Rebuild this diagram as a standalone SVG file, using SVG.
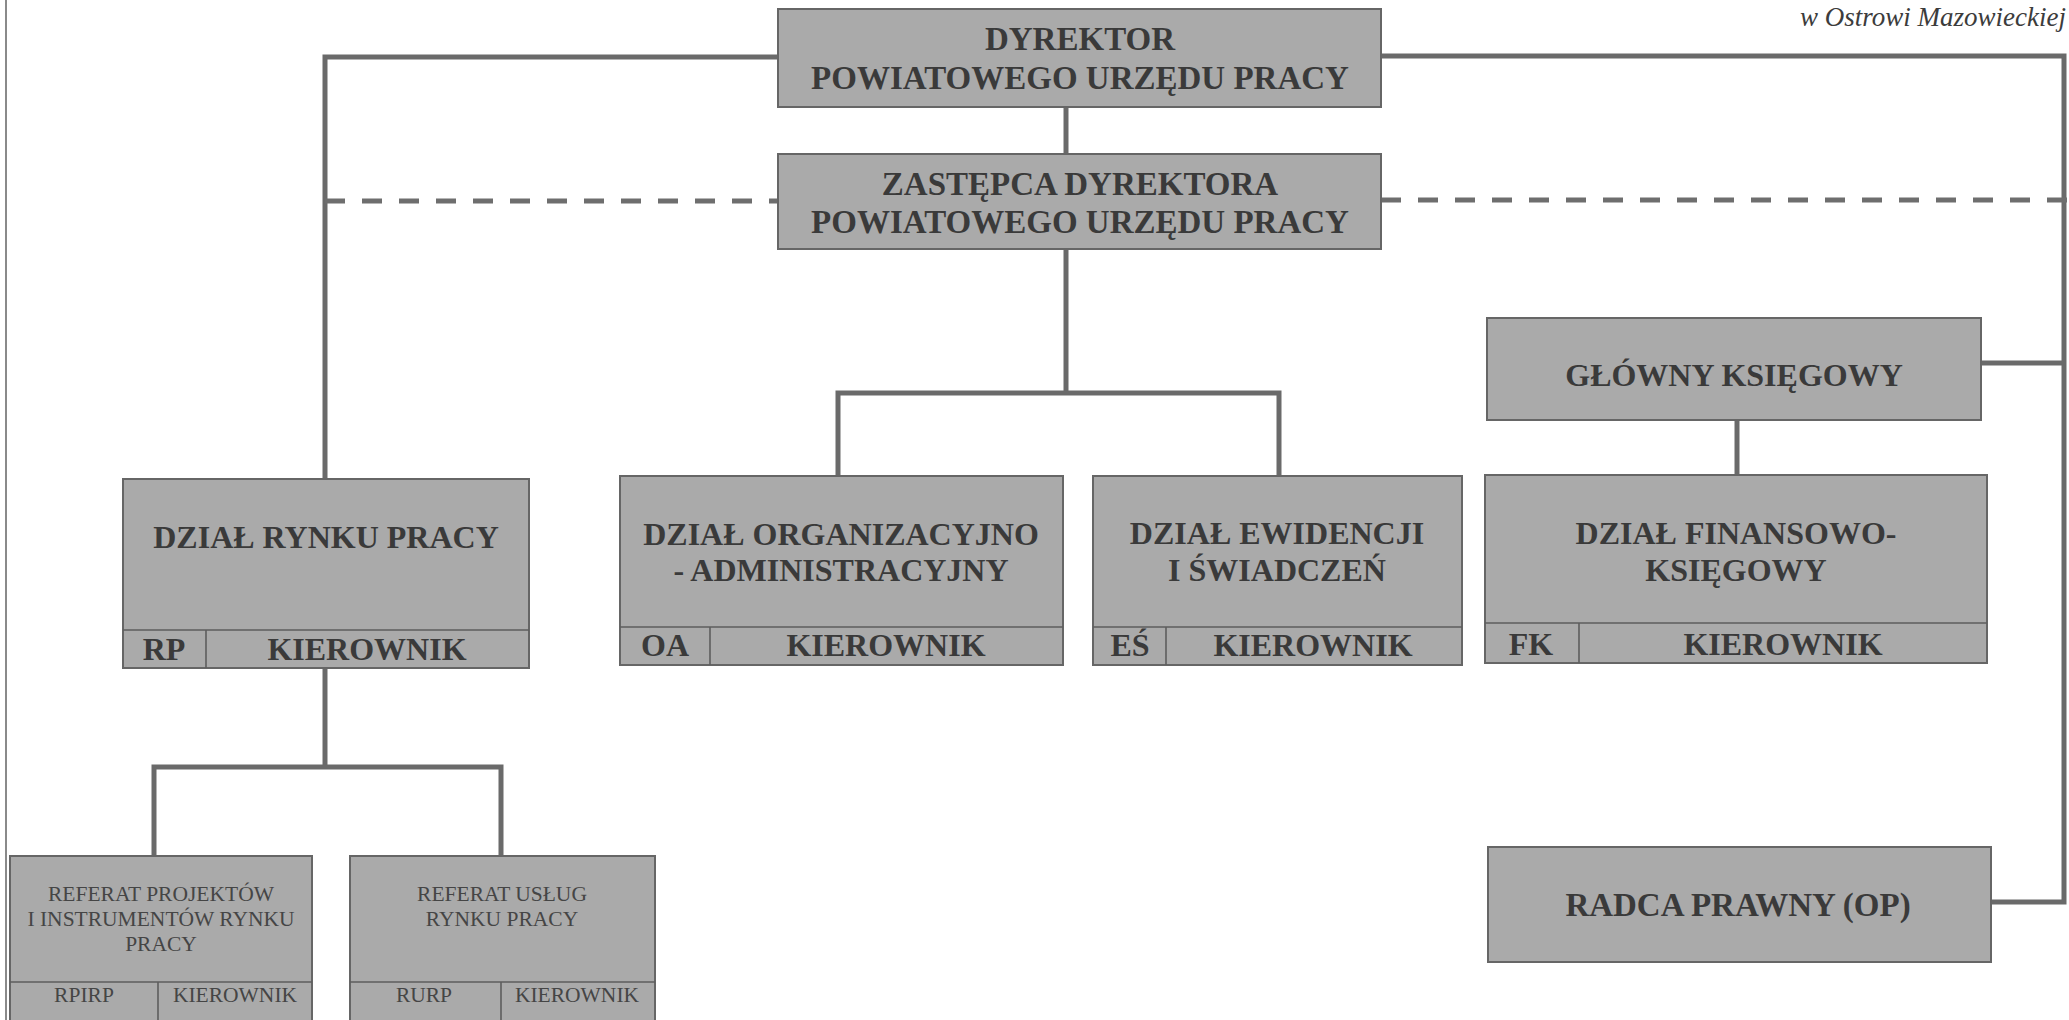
<svg xmlns="http://www.w3.org/2000/svg" width="2069" height="1020" viewBox="0 0 2069 1020">
<style>
.box{fill:#aaaaaa;stroke:#666666;stroke-width:2}
.div{stroke:#5e5e5e;stroke-width:1.6;fill:none}
.t{font-family:"Liberation Serif","Times New Roman",serif;font-weight:bold;font-size:32px;fill:#3a3a3a;text-anchor:middle}
.big{font-size:33px}
.s{font-family:"Liberation Serif","Times New Roman",serif;font-size:21.5px;fill:#454545;text-anchor:middle}
.c{fill:none;stroke:#6a6a6a;stroke-width:5;stroke-linejoin:miter;stroke-linecap:butt}
.d{fill:none;stroke:#6e6e6e;stroke-width:5;stroke-dasharray:20 17}
</style>
<rect width="2069" height="1020" fill="#ffffff"/>
<line x1="6" y1="0" x2="6" y2="1020" stroke="#8a8a8a" stroke-width="2"/>
<text x="2066" y="26" text-anchor="end" font-family="Liberation Serif, serif" font-style="italic" font-size="27" fill="#3c3c3c">w Ostrowi Mazowieckiej</text>

<g id="connectors">
<path class="c" d="M778,57 H325 V479"/>
<path class="c" d="M1381,56 H2064 V902 H1991"/>
<path class="c" d="M2064,363 H1981"/>
<path class="c" d="M1066,107 V154"/>
<path class="c" d="M1066,249 V393"/>
<path class="c" d="M838,476 V393 H1279 V476"/>
<path class="c" d="M1737,420 V475"/>
<path class="c" d="M325,668 V767"/>
<path class="c" d="M154,856 V767 H501 V856"/>
<path class="d" d="M325,201 H778"/>
<path class="d" d="M1381,200 H2069"/>
</g>

<g id="dyrektor">
<rect class="box" x="778" y="9" width="603" height="98"/>
<text class="t big" x="1080" y="50">DYREKTOR</text>
<text class="t big" x="1080" y="89">POWIATOWEGO URZĘDU PRACY</text>
</g>

<g id="zastepca">
<rect class="box" x="778" y="154" width="603" height="95"/>
<text class="t big" x="1080" y="195">ZASTĘPCA DYREKTORA</text>
<text class="t big" x="1080" y="233">POWIATOWEGO URZĘDU PRACY</text>
</g>

<g id="glowny-ksiegowy">
<rect class="box" x="1487" y="318" width="494" height="102"/>
<text class="t" x="1734" y="386">GŁÓWNY KSIĘGOWY</text>
</g>

<g id="dzial-rp">
<rect class="box" x="123" y="479" width="406" height="189"/>
<path class="div" d="M123,630 H529 M206,630 V668"/>
<text class="t" x="326" y="548">DZIAŁ RYNKU PRACY</text>
<text class="t" x="164" y="660">RP</text>
<text class="t" x="367" y="660">KIEROWNIK</text>
</g>

<g id="dzial-oa">
<rect class="box" x="620" y="476" width="443" height="189"/>
<path class="div" d="M620,627 H1063 M710,627 V665"/>
<text class="t" x="841" y="545">DZIAŁ ORGANIZACYJNO</text>
<text class="t" x="841" y="581">- ADMINISTRACYJNY</text>
<text class="t" x="665" y="656">OA</text>
<text class="t" x="886" y="656">KIEROWNIK</text>
</g>

<g id="dzial-es">
<rect class="box" x="1093" y="476" width="369" height="189"/>
<path class="div" d="M1093,627 H1462 M1166,627 V665"/>
<text class="t" x="1277" y="544">DZIAŁ EWIDENCJI</text>
<text class="t" x="1277" y="581">I ŚWIADCZEŃ</text>
<text class="t" x="1130" y="656">EŚ</text>
<text class="t" x="1313" y="656">KIEROWNIK</text>
</g>

<g id="dzial-fk">
<rect class="box" x="1485" y="475" width="502" height="188"/>
<path class="div" d="M1485,623 H1987 M1579,623 V663"/>
<text class="t" x="1736" y="544">DZIAŁ FINANSOWO-</text>
<text class="t" x="1736" y="581">KSIĘGOWY</text>
<text class="t" x="1531" y="655">FK</text>
<text class="t" x="1783" y="655">KIEROWNIK</text>
</g>

<g id="radca">
<rect class="box" x="1488" y="847" width="503" height="115"/>
<text class="t big" x="1738" y="916">RADCA PRAWNY (OP)</text>
</g>

<g id="referat-rpirp">
<rect class="box" x="10" y="856" width="302" height="170"/>
<path class="div" d="M10,982 H312 M158,982 V1020"/>
<text class="s" x="161" y="901">REFERAT PROJEKTÓW</text>
<text class="s" x="161" y="926">I INSTRUMENTÓW RYNKU</text>
<text class="s" x="161" y="951">PRACY</text>
<text class="s" x="84" y="1002">RPIRP</text>
<text class="s" x="235" y="1002">KIEROWNIK</text>
</g>

<g id="referat-rurp">
<rect class="box" x="350" y="856" width="305" height="170"/>
<path class="div" d="M350,982 H655 M501,982 V1020"/>
<text class="s" x="502" y="901">REFERAT USŁUG</text>
<text class="s" x="502" y="926">RYNKU PRACY</text>
<text class="s" x="424" y="1002">RURP</text>
<text class="s" x="577" y="1002">KIEROWNIK</text>
</g>
</svg>
